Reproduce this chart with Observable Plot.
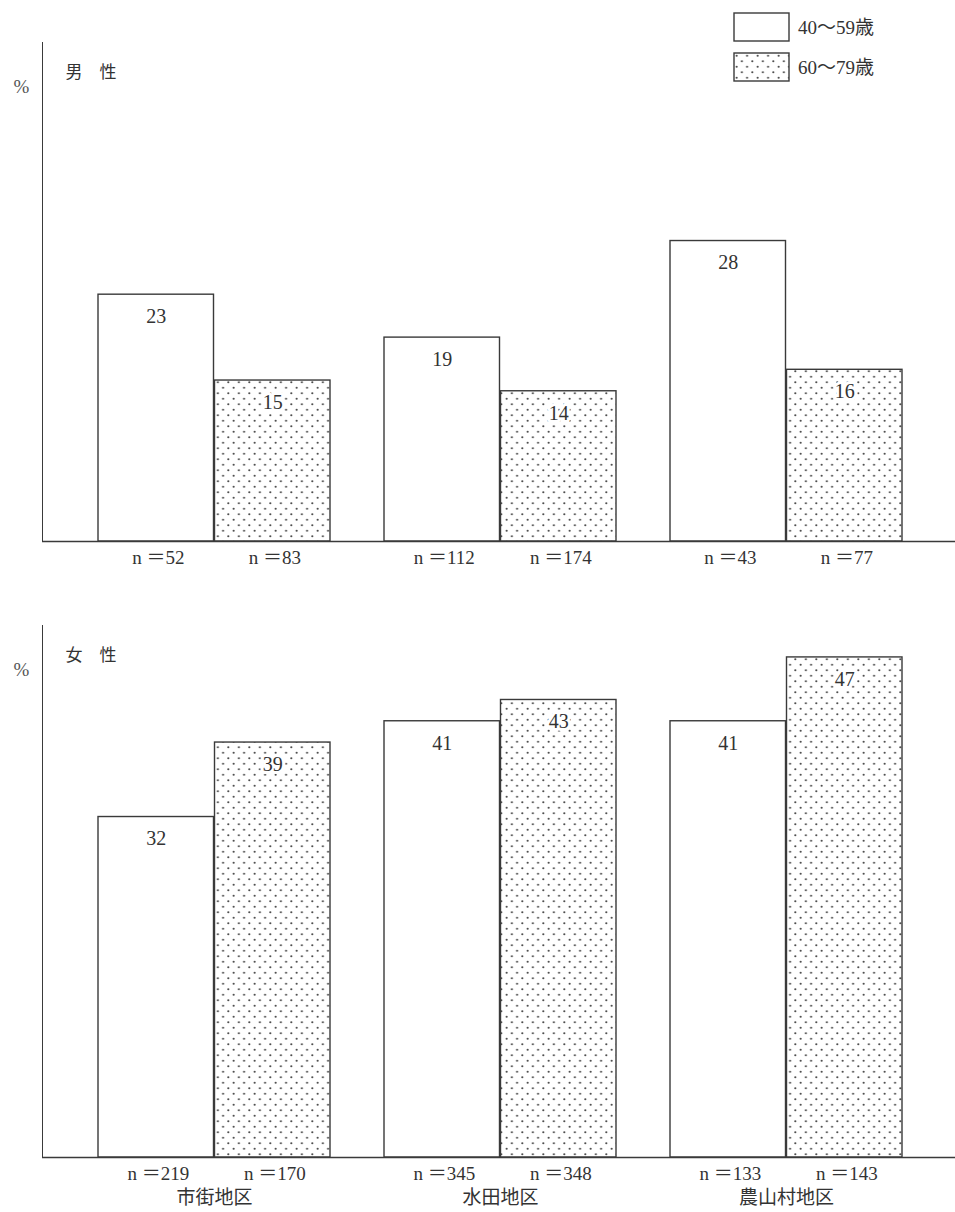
<!DOCTYPE html>
<html>
<head>
<meta charset="utf-8">
<script src="https://cdn.jsdelivr.net/npm/d3@7"></script>
<script src="https://cdn.jsdelivr.net/npm/@observablehq/plot@0.6"></script>
<style>
  body { margin: 0; background: white; }
  #wrap { position: relative; width: 955px; height: 1212px; overflow: hidden; }
  #wrap > .panel { position: absolute; left: 0; }
  #legend { position: absolute; left: 0; top: 0; }
</style>
</head>
<body>
<svg width="0" height="0" style="position:absolute">
  <defs>
    <pattern id="dots" width="10.5" height="11" patternUnits="userSpaceOnUse">
      <rect width="10.5" height="11" fill="white"></rect>
      <circle cx="2.6" cy="2.75" r="1.05" fill="#4a4a4a"></circle>
      <circle cx="7.85" cy="8.25" r="1.05" fill="#4a4a4a"></circle>
    </pattern>
  </defs>
</svg>
<div id="wrap"></div>
<script>
// ---- data ----
const regions = ["市街地区", "水田地区", "農山村地区"];
const ageGroups = ["40～59歳", "60～79歳"];
const male40 = [23, 19, 28];
const male60 = [15, 14, 16];
const maleN40 = [52, 112, 43];
const maleN60 = [83, 174, 77];
const female40 = [32, 41, 41];
const female60 = [39, 43, 47];
const femaleN40 = [219, 345, 133];
const femaleN60 = [170, 348, 143];

const SERIF = "'Liberation Serif', 'Noto Sans CJK JP', serif";
const CJK = "'Noto Sans CJK JP', sans-serif";
const INK = "#3a3a3a";
const HALF = 116.5; // half of the band width, for the two bars of a group

function rows(values, ns, age) {
  return regions.map((r, i) => ({region: r, age, value: values[i], n: ns[i]}));
}

function panel({v40, v60, n40, n60, title, height, marginTop, marginBottom, yMax, showCategories}) {
  const r40 = rows(v40, n40, ageGroups[0]);
  const r60 = rows(v60, n60, ageGroups[1]);
  const marks = [
    Plot.barY(r40, {x: "region", y: "value", insetRight: HALF, fill: "white", stroke: INK, strokeWidth: 1.4}),
    Plot.barY(r60, {x: "region", y: "value", insetLeft: HALF, fill: "url(#dots)", stroke: INK, strokeWidth: 1.4}),
    Plot.ruleY([0], {stroke: INK, strokeWidth: 1.4}),
    Plot.text(r40, {x: "region", y: "value", text: d => String(d.value), dx: -HALF / 2, dy: 22, lineAnchor: "middle", fontSize: 20, fontFamily: SERIF, fill: "#333"}),
    Plot.text(r60, {x: "region", y: "value", text: d => String(d.value), dx: HALF / 2, dy: 22, lineAnchor: "middle", fontSize: 20, fontFamily: SERIF, fill: "#333", stroke: "white", strokeWidth: 6}),
    Plot.text(r40, {x: "region", y: 0, text: d => `n ＝${d.n}`, dx: -HALF / 2 + 2, dy: 16, lineAnchor: "middle", fontSize: 19, fontFamily: SERIF, fill: "#333"}),
    Plot.text(r60, {x: "region", y: 0, text: d => `n ＝${d.n}`, dx: HALF / 2 + 2, dy: 16, lineAnchor: "middle", fontSize: 19, fontFamily: SERIF, fill: "#333"}),
    Plot.text([title], {frameAnchor: "top-left", dx: 23, dy: 30, textAnchor: "start", lineAnchor: "middle", fontSize: 17, fontFamily: CJK, fill: "#333"}),
    Plot.text(["%"], {frameAnchor: "top-left", dx: -21, dy: 44, textAnchor: "middle", lineAnchor: "middle", fontSize: 19, fontFamily: SERIF, fill: "#555"})
  ];
  if (showCategories) {
    marks.push(Plot.axisX({tickSize: 0, tickPadding: 33, fontSize: 19, fontFamily: CJK, fill: "#333", label: null}));
  }
  return Plot.plot({
    width: 955,
    height,
    marginTop,
    marginBottom,
    marginLeft: 42,
    marginRight: 0,
    x: {domain: regions, paddingInner: 0.188, paddingOuter: 0.185, align: 0.518, axis: null},
    y: {domain: [0, yMax], ticks: [], tickSize: 0, label: null, line: true},
    style: {background: "transparent", fontFamily: SERIF, color: INK, overflow: "visible"},
    marks
  });
}

const wrap = document.getElementById("wrap");

const malePanel = panel({v40: male40, v60: male60, n40: maleN40, n60: maleN60, title: "男　性",
  height: 580, marginTop: 42, marginBottom: 39, yMax: 46.5, showCategories: false});
malePanel.classList.add("panel");
malePanel.style.top = "0px";
wrap.appendChild(malePanel);

const femalePanel = panel({v40: female40, v60: female60, n40: femaleN40, n60: femaleN60, title: "女　性",
  height: 627, marginTop: 40, marginBottom: 55, yMax: 50, showCategories: true});
femalePanel.classList.add("panel");
femalePanel.style.top = "585px";
wrap.appendChild(femalePanel);

// ---- legend ----
const legend = d3.select(wrap).append("svg")
  .attr("id", "legend").attr("width", 955).attr("height", 100);
const items = legend.selectAll("g").data(ageGroups).join("g")
  .attr("transform", (d, i) => `translate(734, ${13 + i * 40})`);
items.append("rect").attr("width", 55).attr("height", 28)
  .attr("fill", (d, i) => i === 0 ? "white" : "url(#dots)")
  .attr("stroke", INK).attr("stroke-width", 1.4);
items.append("text").attr("x", 64).attr("y", 14).attr("dy", "0.35em")
  .attr("font-family", SERIF).attr("font-size", 19).attr("fill", "#333")
  .text(d => d);
</script>
</body>
</html>
